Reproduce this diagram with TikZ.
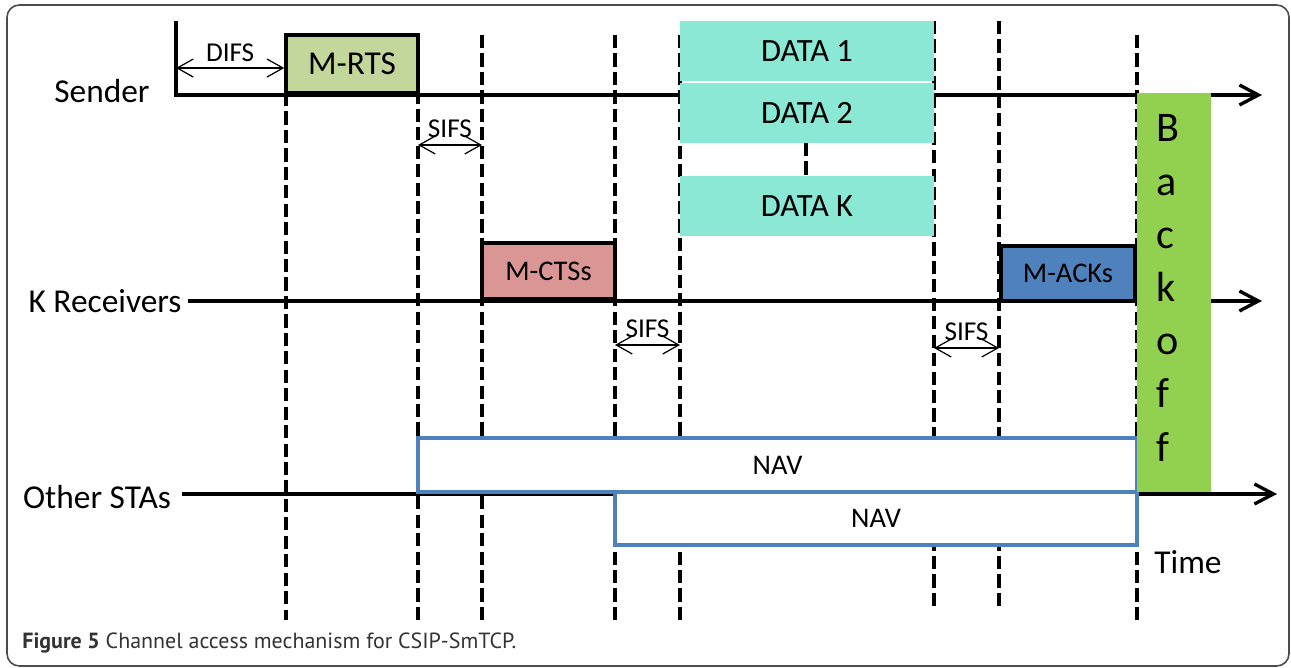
\documentclass[tikz,border=0pt]{standalone}
\usepackage{fontspec}
\setmainfont{Carlito}
\newfontfamily\capfont{PT Sans}
\usetikzlibrary{arrows.meta,positioning}
\definecolor{rtsc}{HTML}{C3D69B}
\definecolor{ctsc}{HTML}{D99694}
\definecolor{ackc}{HTML}{4F81BD}
\definecolor{datc}{HTML}{8AE8D5}
\definecolor{boc}{HTML}{92D050}
\definecolor{navc}{HTML}{4F81BD}
\tikzset{ln/.style={line width=1.9pt},
 tip/.style={ln,-{Straight Barb[length=3.8mm,width=4mm]}},
 dbl/.style={line width=.7pt,{Straight Barb[length=3.2mm,width=3.6mm]}-{Straight Barb[length=3.2mm,width=3.6mm]}},
 dsh/.style={line width=2.3pt,dash pattern=on 7.5pt off 3pt},
 pk/.style={draw,line width=2pt,inner sep=0pt,font=\fontsize{16.2}{18}\selectfont},
 dat/.style={fill=datc,inner sep=0pt,minimum width=5.08cm,minimum height=1.2cm,font=\fontsize{18.5}{20}\selectfont},
 nav/.style={draw=navc,fill=white,line width=2.3pt,inner sep=0pt,minimum height=1.07cm,font=\fontsize{16.2}{18}\selectfont},
 lbl/.style={anchor=base,font=\fontsize{19}{22}\selectfont},
 sm/.style={font=\fontsize{15.5}{17}\selectfont,inner sep=0pt}}
\begin{document}
\begin{tikzpicture}[x=0.02cm,y=-0.02cm]
\useasboundingbox (0,0) rectangle (1291,668);
\draw[line width=.9pt,draw=black!70,rounded corners=7pt] (7,5) rectangle (1289,666);
% dashed time marks
\foreach \x/\a/\b [count=\i] in {286/93/620,418/35/620,482/35/620,615/35/620,680/35/620,934/21/607,999/21/607,1137/35/620}{
  \coordinate (m\i) at (\x,\a);
  \draw[dsh] (m\i) -- (\x,\b);}
\draw[dsh] (806,143) -- (806,176);
% time axes
\node[lbl] (snd) at (102,103) {Sender};
\node[lbl] (rcv) at (105,313) {K Receivers};
\node[lbl] (oth) at (97,508) {Other STAs};
\node[lbl] (tm) at (1188,573) {Time};
\coordinate (s0) at (176,21);
\coordinate (s1) at (1262,95);
\coordinate (r1) at (1262,301);
\coordinate (o1) at (1277,494);
\draw[tip] (s0) |- (s1);
\draw[tip] (rcv.east |- r1) -- (r1);
\draw[tip] ([xshift=3pt]oth.east |- o1) -- (o1);
% frames
\node[pk,fill=rtsc,minimum width=2.64cm,minimum height=1.16cm,font=\fontsize{19}{21}\selectfont] (rts) at (352,64) {M-RTS};
\node[dat] (d1) at (807,51.5) {DATA 1};
\node[dat] (d2) at (807,113) {DATA 2};
\node[dat] (dk) at (807,206) {DATA K};
\node[pk,fill=ctsc,minimum width=2.66cm,minimum height=1.12cm] (cts) at (548.5,271) {M-CTSs};
\node[pk,fill=ackc,minimum width=2.68cm,minimum height=1.1cm] (ack) at (1068,273.5) {M-ACKs};
\node[nav,minimum width=14.38cm] (nav1) at (777.5,465) {NAV};
\node[nav,minimum width=10.44cm] (nav2) at (876,518.5) {NAV};
\node[fill=boc,inner sep=0pt,minimum width=1.48cm,minimum height=7.98cm] (bo) at (1174,292.5) {};
\foreach \c [count=\i from 0] in {B,a,c,k,o,f,f}
  \node[anchor=base west,inner sep=0pt,font=\fontsize{24}{26}\selectfont] at (1156,{142+53.2*\i}) {\c};
% DIFS / SIFS
\draw[dbl] ([yshift=-2.3pt]s0 |- rts.west) -- ([yshift=-2.3pt]rts.west) node[sm,midway,above=3pt] (difs) {DIFS};
\foreach \a/\b/\y [count=\i] in {418/482/145,615/680/345,934/999/348}{
  \coordinate (sa\i) at (\a,\y); \coordinate (sb\i) at (\b,\y);
  \draw[dbl] (sa\i) -- (sb\i) node[sm,midway,above=4pt] (sifs\i) {SIFS};}
\node[anchor=base west,inner sep=0pt,font=\capfont\fontsize{12.5}{14}\selectfont,text=black!80] (cap) at (22,648) {\textbf{Figure 5} Channel access mechanism for CSIP-SmTCP.};
\end{tikzpicture}
\end{document}
